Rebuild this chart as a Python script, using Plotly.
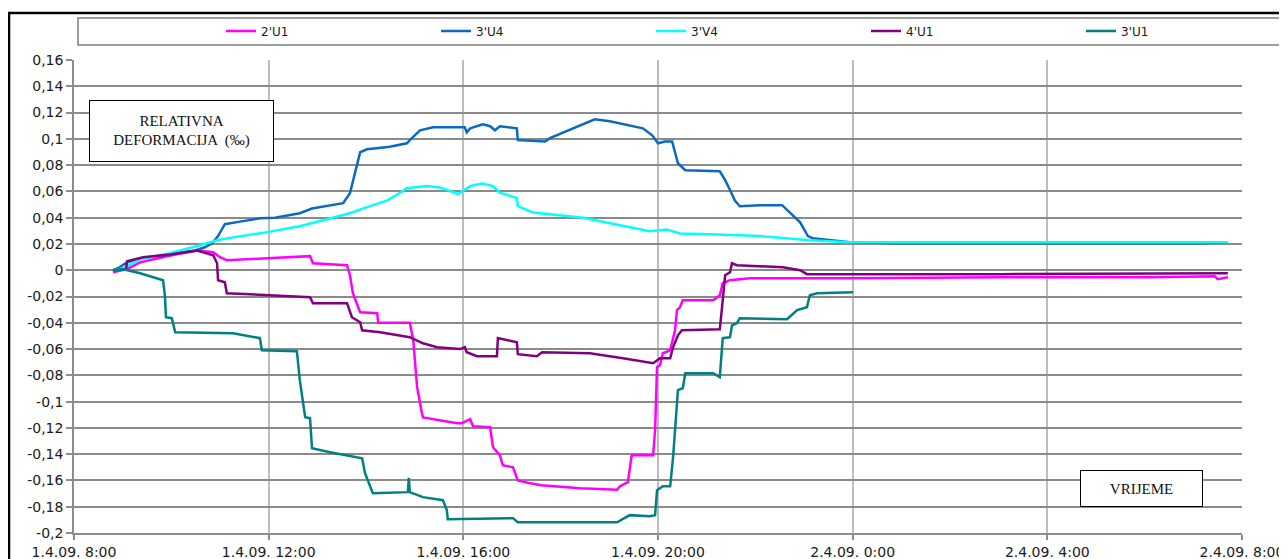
import pandas as pd
import plotly.graph_objects as go

# time in hours since 1.4.2009 00:00
t_2U1 = [8.80, 9.09, 9.36, 9.91, 10.53, 10.86, 11.00, 11.14, 11.97, 12.85, 12.91, 13.61, 13.67, 13.73, 13.88,
         14.23, 14.25, 14.90, 14.97, 15.05, 15.15, 15.17, 15.87, 15.97, 16.14, 16.20, 16.55, 16.61, 16.75, 16.81,
         17.02, 17.12, 17.35, 17.60, 18.40, 19.16, 19.22, 19.38, 19.46, 19.90, 19.94, 19.98, 20.04, 20.10, 20.25,
         20.35, 20.39, 20.45, 20.51, 21.13, 21.27, 21.33, 21.48, 21.89, 23.94, 27.03, 30.11, 31.44, 31.50, 31.71]
v_2U1 = [-0.0015, 0.0008, 0.006, 0.0107, 0.015, 0.0137, 0.0099, 0.0076, 0.0091, 0.0107, 0.0053, 0.0038, -0.0038,
         -0.0175, -0.032, -0.0327, -0.040, -0.040, -0.053, -0.089, -0.1088, -0.112, -0.1164, -0.1164, -0.1134,
         -0.1187, -0.1195, -0.1347, -0.1408, -0.1484, -0.150, -0.160, -0.162, -0.1636, -0.166, -0.167, -0.1644,
         -0.1613, -0.1408, -0.1408, -0.1218, -0.0738, -0.0723, -0.0632, -0.0609, -0.0457, -0.0304, -0.0282,
         -0.0228, -0.0228, -0.019, -0.0099, -0.0076, -0.0061, -0.0061, -0.0053, -0.0053, -0.0046, -0.0068, -0.0053]

t_3U4 = [8.80, 8.90, 9.09, 9.36, 9.77, 10.18, 10.49, 10.69, 10.84, 10.96, 11.10, 11.41, 11.82, 12.13, 12.44,
         12.64, 12.89, 13.53, 13.67, 13.77, 13.88, 14.02, 14.49, 14.84, 14.90, 15.11, 15.38, 16.03, 16.07, 16.14,
         16.40, 16.55, 16.65, 16.75, 17.10, 17.12, 17.68, 17.78, 18.70, 19.01, 19.22, 19.69, 19.88, 20.00, 20.14,
         20.29, 20.41, 20.56, 21.27, 21.38, 21.48, 21.58, 21.68, 22.10, 22.55, 22.71, 22.92, 23.08, 23.18, 23.94,
         24.97, 27.03, 29.08, 31.14, 31.71]
v_3U4 = [0.0, 0.0015, 0.006, 0.009, 0.011, 0.013, 0.015, 0.0175, 0.0205, 0.026, 0.035, 0.037, 0.0395, 0.040,
         0.042, 0.0434, 0.047, 0.051, 0.0586, 0.0738, 0.0898, 0.092, 0.094, 0.0966, 0.099, 0.1065, 0.1088, 0.1088,
         0.105, 0.108, 0.111, 0.1096, 0.1065, 0.1096, 0.108, 0.099, 0.098, 0.1005, 0.1149, 0.1134, 0.1119, 0.108,
         0.1027, 0.0966, 0.098, 0.098, 0.0814, 0.0761, 0.0753, 0.0685, 0.061, 0.053, 0.0487, 0.0495, 0.0495, 0.044,
         0.0365, 0.026, 0.0244, 0.0213, 0.0205, 0.0205, 0.0205, 0.0205, 0.0213]

t_3V4 = [8.80, 9.01, 9.36, 9.97, 10.59, 10.94, 11.27, 11.97, 12.64, 13.32, 13.67, 14.02, 14.43, 14.70, 14.84,
         15.25, 15.52, 15.89, 16.14, 16.38, 16.61, 16.75, 17.10, 17.12, 17.43, 18.46, 19.16, 19.83, 20.18, 20.45,
         21.07, 22.10, 23.12, 23.94, 26.0, 29.08, 31.71]
v_3V4 = [0.0, 0.0015, 0.0084, 0.013, 0.019, 0.0228, 0.025, 0.029, 0.0335, 0.040, 0.0434, 0.048, 0.053, 0.059,
         0.0624, 0.064, 0.063, 0.058, 0.064, 0.066, 0.064, 0.059, 0.055, 0.0487, 0.044, 0.040, 0.035, 0.0297, 0.031,
         0.028, 0.0274, 0.026, 0.0228, 0.0213, 0.0213, 0.0213, 0.0213]

t_4U1 = [8.80, 9.07, 9.09, 9.42, 9.97, 10.53, 10.86, 10.94, 10.96, 11.10, 11.14, 11.97, 12.85, 12.91, 13.61,
         13.71, 13.88, 13.92, 14.29, 14.90, 15.17, 15.46, 15.93, 16.03, 16.07, 16.28, 16.69, 16.71, 17.10, 17.12,
         17.51, 17.62, 18.60, 19.28, 19.90, 20.04, 20.25, 20.31, 20.41, 20.49, 21.27, 21.31, 21.38, 21.48, 21.52,
         21.62, 22.57, 22.92, 23.06, 23.94, 27.03, 31.71]
v_4U1 = [0.0, 0.0008, 0.0068, 0.0099, 0.012, 0.015, 0.0114, 0.0053, -0.0076, -0.0091, -0.0175, -0.019, -0.0205,
         -0.0251, -0.0251, -0.0358, -0.0396, -0.0457, -0.0472, -0.051, -0.0556, -0.0586, -0.060, -0.0586, -0.0624,
         -0.0654, -0.0654, -0.0517, -0.0548, -0.0639, -0.0654, -0.0624, -0.0632, -0.067, -0.0708, -0.067, -0.067,
         -0.0586, -0.0495, -0.0457, -0.0449, -0.0304, -0.0038, -0.0015, 0.0053, 0.0038, 0.0023, 0.0, -0.003,
         -0.003, -0.003, -0.0023]

t_3U1 = [8.80, 9.01, 9.36, 9.62, 9.83, 9.87, 9.89, 10.01, 10.08, 11.27, 11.82, 11.86, 12.58, 12.64, 12.71,
         12.75, 12.85, 12.89, 13.26, 13.61, 13.92, 13.98, 14.14, 14.86, 14.88, 14.90, 15.17, 15.58, 15.66, 15.68,
         17.02, 17.12, 19.16, 19.42, 19.83, 19.94, 19.98, 20.10, 20.25, 20.31, 20.39, 20.41, 20.51, 20.56, 21.13,
         21.27, 21.33, 21.48, 21.52, 21.62, 21.68, 22.65, 22.86, 23.06, 23.12, 23.27, 24.01]
v_3U1 = [0.0, 0.0008, -0.0023, -0.0053, -0.0076, -0.0205, -0.0358, -0.0365, -0.0472, -0.048, -0.0517, -0.0609,
         -0.0616, -0.0837, -0.1012, -0.1119, -0.1126, -0.1355, -0.1385, -0.1408, -0.1431, -0.1545, -0.1697,
         -0.1689, -0.158, -0.1689, -0.1727, -0.175, -0.1826, -0.1895, -0.1887, -0.1918, -0.1918, -0.1864, -0.1872,
         -0.1864, -0.1674, -0.1644, -0.1644, -0.1423, -0.1012, -0.0913, -0.0898, -0.0784, -0.0784, -0.0814,
         -0.0517, -0.051, -0.0419, -0.0403, -0.0365, -0.0373, -0.0304, -0.0282, -0.019, -0.0175, -0.0167]

series_names = ["2'U1", "3'U4", "3'V4", "4'U1", "3'U1"]
series_colors = ["#FF00FF", "#0A6AC2", "#00FFFF", "#800080", "#008080"]
series_t = [t_2U1, t_3U4, t_3V4, t_4U1, t_3U1]
series_v = [v_2U1, v_3U4, v_3V4, v_4U1, v_3U1]

x_tick_hours = [8, 12, 16, 20, 24, 28, 32]
x_tick_labels = ["1.4.09. 8:00", "1.4.09. 12:00", "1.4.09. 16:00", "1.4.09. 20:00",
                 "2.4.09. 0:00", "2.4.09. 4:00", "2.4.09. 8:00"]
y_tick_vals = [0.16, 0.14, 0.12, 0.1, 0.08, 0.06, 0.04, 0.02, 0, -0.02, -0.04, -0.06, -0.08, -0.1,
               -0.12, -0.14, -0.16, -0.18, -0.2]
y_tick_labels = ["0,16", "0,14", "0,12", "0,1", "0,08", "0,06", "0,04", "0,02", "0", "-0,02", "-0,04",
                 "-0,06", "-0,08", "-0,1", "-0,12", "-0,14", "-0,16", "-0,18", "-0,2"]

base = pd.Timestamp("2009-04-01")


def to_time(hours):
    return base + pd.to_timedelta(hours, unit="h")


fig = go.Figure()
for name, color, t, v in zip(series_names, series_colors, series_t, series_v):
    fig.add_trace(go.Scatter(x=to_time(t), y=v, name=name, mode="lines",
                             line=dict(color=color, width=2.5)))

tick_font = dict(family="DejaVu Sans", size=14, color="#1A1A1A")

fig.update_xaxes(range=[to_time(8), to_time(32)], tickvals=to_time(x_tick_hours), ticktext=x_tick_labels,
                 showgrid=True, gridcolor="#BDBDBD", gridwidth=1.5,
                 showline=True, linecolor="#8C8C8C", linewidth=1.5,
                 ticks="outside", ticklen=5, tickcolor="#8C8C8C", tickwidth=1.5,
                 tickfont=tick_font, zeroline=False, automargin=False)
fig.update_yaxes(range=[-0.2, 0.16], tickvals=y_tick_vals, ticktext=y_tick_labels,
                 showgrid=True, gridcolor="#8A8A8A", gridwidth=1.5,
                 showline=True, linecolor="#8C8C8C", linewidth=1.5,
                 ticks="outside", ticklen=6, tickcolor="#8C8C8C", tickwidth=1.5,
                 tickfont=tick_font, zeroline=False, automargin=False)

# page has an 8px body margin; figure sized to fit the 1287x559 window
OFF = 8
W, H = 1279, 551
L, R, T, B = 66, 45, 52, 26
pw, ph = W - L - R, H - T - B


def px(x):
    return (x - OFF - L) / pw


def py(y):
    return (H - B - (y - OFF)) / ph


fig.update_layout(
    width=W, height=H,
    margin=dict(l=L, r=R, t=T, b=B, autoexpand=False),
    paper_bgcolor="white", plot_bgcolor="white",
    showlegend=True,
    legend=dict(orientation="h", x=px(221), y=py(31), xanchor="left", yanchor="middle",
                entrywidth=170, entrywidthmode="pixels",
                font=dict(family="DejaVu Sans", size=12, color="#1A1A1A"),
                bgcolor="rgba(0,0,0,0)", borderwidth=0),
    shapes=[
        dict(type="rect", xref="paper", yref="paper", x0=px(9), x1=px(1300), y0=py(575), y1=py(13),
             line=dict(color="black", width=2.5), fillcolor="rgba(0,0,0,0)", layer="below"),
        dict(type="rect", xref="paper", yref="paper", x0=px(78), x1=px(1283), y0=py(45), y1=py(18),
             line=dict(color="#7F7F7F", width=1.5), fillcolor="rgba(0,0,0,0)"),
    ],
    annotations=[
        dict(xref="paper", yref="paper", x=px(181), y=py(131), xanchor="center", yanchor="middle",
             text="RELATIVNA<br>DEFORMACIJA  (‰)", showarrow=False,
             font=dict(family="Liberation Serif", size=15, color="#111111"),
             width=183, height=60, bgcolor="white", bordercolor="black", borderwidth=1, borderpad=0),
        dict(xref="paper", yref="paper", x=px(1141), y=py(488), xanchor="center", yanchor="middle",
             text="VRIJEME", showarrow=False,
             font=dict(family="Liberation Serif", size=15, color="#111111"),
             width=121, height=35, bgcolor="white", bordercolor="black", borderwidth=1, borderpad=0),
    ],
)

fig.write_html("out.html", config={"displayModeBar": False})
